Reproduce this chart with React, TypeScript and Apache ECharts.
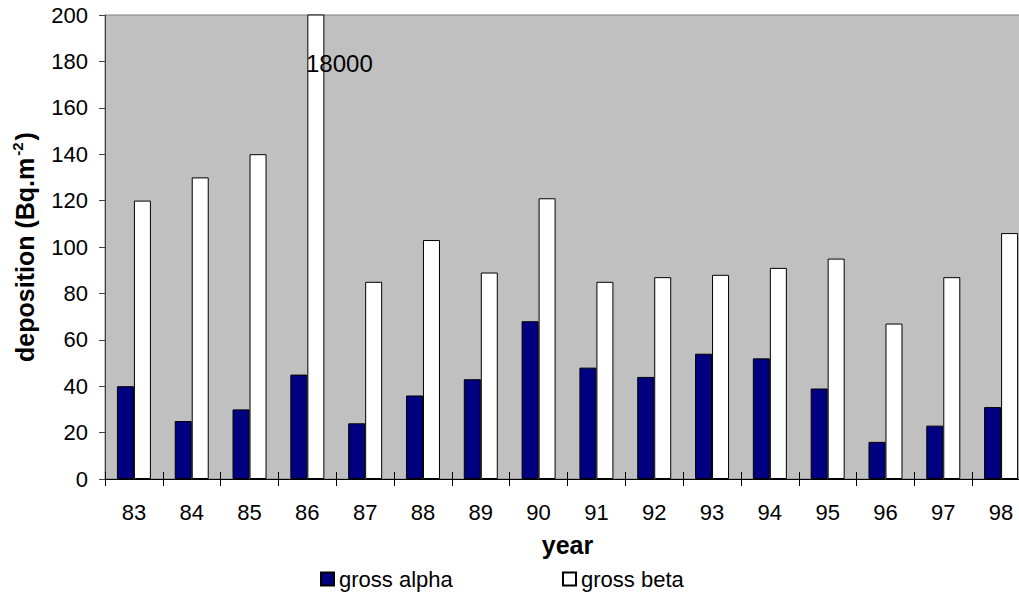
import { useEffect, useRef } from "react";
import * as echarts from "echarts";

const years = ["83", "84", "85", "86", "87", "88", "89", "90", "91", "92", "93", "94", "95", "96", "97", "98"];
const grossAlpha = [40, 25, 30, 45, 24, 36, 43, 68, 48, 44, 54, 52, 39, 16, 23, 31];
const grossBeta = [120, 130, 140, 18000, 85, 103, 89, 121, 85, 87, 88, 91, 95, 67, 87, 106];
const yTicks = { min: 0, max: 200, interval: 20 };
const outlierLabel = "18000";

const FONT = "'Liberation Sans', Arial, sans-serif";

function App() {
  const chartRef = useRef<HTMLDivElement>(null);

  useEffect(() => {
    const chart = echarts.init(chartRef.current, null, { renderer: "svg" });

    const legendBase = {
      top: 568,
      padding: 0,
      itemWidth: 13,
      itemHeight: 13,
      icon: "rect",
      textStyle: { fontFamily: FONT, fontSize: 22, color: "#000" },
    };

    const option = {
      animation: false,
      textStyle: { fontFamily: FONT, color: "#000" },
      grid: {
        left: 105,
        top: 15,
        bottom: 116,
        right: -11,
        containLabel: false,
        outerBoundsMode: "none",
        show: true,
        backgroundColor: "#C0C0C0",
        borderColor: "#808080",
        borderWidth: 1,
      },
      legend: [
        { ...legendBase, left: 320, data: ["gross alpha"] },
        { ...legendBase, left: 562, data: ["gross beta"] },
      ],
      xAxis: [
        {
          type: "category",
          data: years,
          name: "year",
          nameLocation: "middle",
          nameGap: 53,
          nameTextStyle: { fontFamily: FONT, fontSize: 25, fontWeight: "bold", color: "#000" },
          axisLine: { lineStyle: { color: "#000", width: 1 } },
          axisTick: { show: true, length: 7, lineStyle: { color: "#000" } },
          axisLabel: { fontFamily: FONT, fontSize: 22, color: "#000", margin: 22 },
        },
        {
          type: "category",
          data: years,
          position: "bottom",
          axisLine: { show: false },
          axisTick: { show: true, inside: true, length: 7, lineStyle: { color: "#000" } },
          axisLabel: { show: false },
        },
      ],
      yAxis: {
        type: "value",
        min: yTicks.min,
        max: yTicks.max,
        interval: yTicks.interval,
        name: "{a|deposition (Bq.m}{s|-2}{a|)}",
        nameLocation: "middle",
        nameRotate: 90,
        nameGap: 65,
        nameTextStyle: {
          rich: {
            a: { fontFamily: FONT, fontSize: 25, fontWeight: "bold", color: "#000", lineHeight: 30 },
            s: { fontFamily: FONT, fontSize: 15, fontWeight: "bold", color: "#000", verticalAlign: "top", lineHeight: 30, padding: [0, 2, 12, 2] },
          },
        },
        axisLine: { show: true, lineStyle: { color: "#404040", width: 1 } },
        axisTick: { show: true, length: 6, lineStyle: { color: "#404040" } },
        axisLabel: { fontFamily: FONT, fontSize: 22, color: "#000", margin: 17 },
        splitLine: { show: false },
      },
      series: [
        {
          name: "gross alpha",
          type: "bar",
          data: grossAlpha,
          barWidth: 17,
          barGap: "0%",
          itemStyle: { color: "#000080", borderColor: "#000", borderWidth: 1 },
        },
        {
          name: "gross beta",
          type: "bar",
          data: grossBeta,
          barWidth: 17,
          barGap: "0%",
          itemStyle: { color: "#fff", borderColor: "#000", borderWidth: 1 },
        },
      ],
      graphic: [
        {
          type: "text",
          left: 306,
          top: 51,
          z: 100,
          style: { text: outlierLabel, fontFamily: FONT, fontSize: 24, fill: "#000" },
        },
      ],
    };

    chart.setOption(option);

    return () => {
      chart.dispose();
    };
  }, []);

  return (
    <div
      ref={chartRef}
      style={{ position: "fixed", left: 0, top: 0, width: 1019, height: 595, background: "#fff" }}
    />
  );
}

export default App;
